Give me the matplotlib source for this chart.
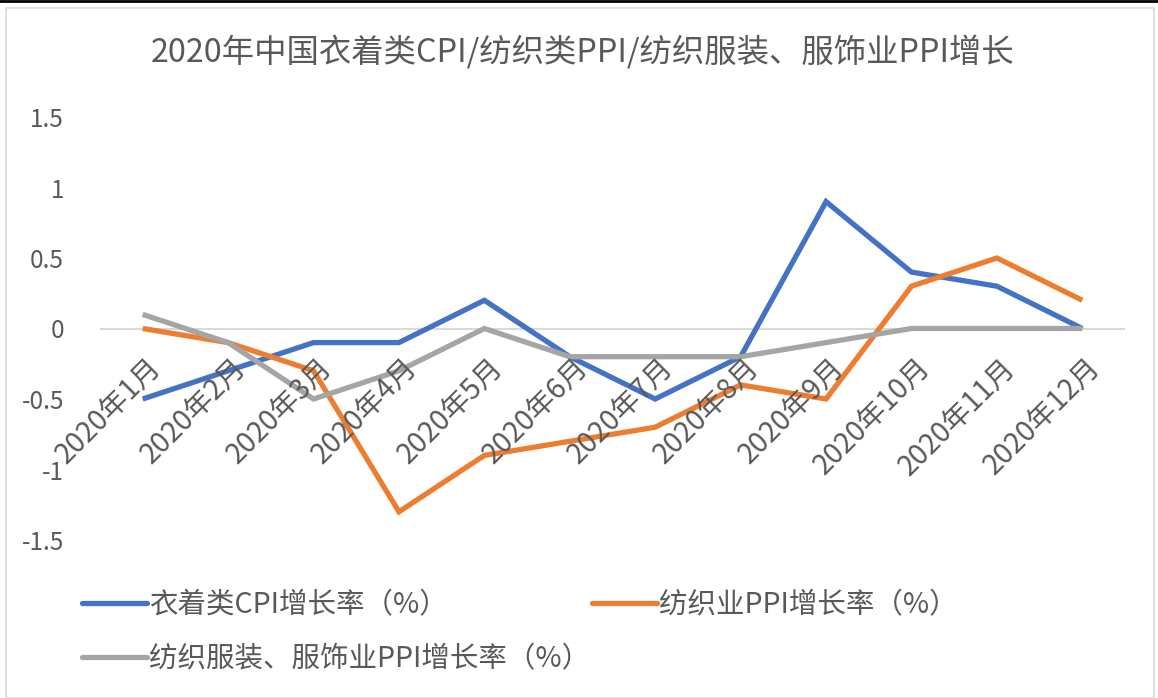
import matplotlib
matplotlib.use("Agg")
import matplotlib.pyplot as plt
from matplotlib.lines import Line2D
from matplotlib.patches import Rectangle

plt.rcParams['font.family'] = ['Noto Sans CJK SC', 'DejaVu Sans']

months = ["2020年1月", "2020年2月", "2020年3月", "2020年4月", "2020年5月", "2020年6月",
          "2020年7月", "2020年8月", "2020年9月", "2020年10月", "2020年11月", "2020年12月"]
cpi_clothing = [-0.5, -0.3, -0.1, -0.1, 0.2, -0.2, -0.5, -0.2, 0.9, 0.4, 0.3, 0.0]
ppi_textile = [0.0, -0.1, -0.3, -1.3, -0.9, -0.8, -0.7, -0.4, -0.5, 0.3, 0.5, 0.2]
ppi_apparel = [0.1, -0.1, -0.5, -0.3, 0.0, -0.2, -0.2, -0.2, -0.1, 0.0, 0.0, 0.0]
yticks = [-1.5, -1, -0.5, 0, 0.5, 1, 1.5]
ytick_labels = ["-1.5", "-1", "-0.5", "0", "0.5", "1", "1.5"]

title = "2020年中国衣着类CPI/纺织类PPI/纺织服装、服饰业PPI增长"
names = ["衣着类CPI增长率（%）", "纺织业PPI增长率（%）", "纺织服装、服饰业PPI增长率（%）"]
colors = ["#4472C4", "#ED7D31", "#A5A5A5"]
text_color = "#595959"

W, H = 1158, 698
fig = plt.figure(figsize=(W / 100, H / 100), dpi=100)
ax = fig.add_axes([100 / W, 1 - 540 / H, 1025 / W, 423 / H])

x = list(range(len(months)))
handles = []
for vals, c in zip([cpi_clothing, ppi_textile, ppi_apparel], colors):
    h, = ax.plot(x, vals, color=c, lw=3.8, solid_joinstyle='miter', solid_capstyle='butt', zorder=3)
    handles.append(h)

ax.set_xlim(-0.5, len(months) - 0.5)
ax.set_ylim(-1.5, 1.5)
for s in ax.spines.values():
    s.set_visible(False)
ax.axhline(0, color="#D9D9D9", lw=1.5, zorder=1)

ax.set_yticks(yticks)
ax.set_yticklabels(ytick_labels, fontsize=17.5, color=text_color)
ax.tick_params(axis='y', length=0, pad=26)
ax.set_xticks([])
for xi, lab in zip(x, months):
    ax.text(xi + 0.04, -0.17, lab, rotation=45, ha='right', va='top', rotation_mode='anchor',
            fontsize=20.5, color=text_color)

fig.text(583 / W, 1 - 52 / H, title, ha='center', va='center', fontsize=23.3, color=text_color)

leg_pos = [(82, 605), (592, 605), (82, 659)]
for h, name, c, (lx, ly) in zip(handles, names, colors, leg_pos):
    lh = Line2D([], [], color=c, lw=3.8, solid_capstyle='round')
    fig.legend(handles=[lh], labels=[name], loc='center left',
               bbox_to_anchor=(lx / W, 1 - ly / H), frameon=False, fontsize=20.5,
               handlelength=2.3, handletextpad=0.05, borderpad=0, borderaxespad=0,
               labelcolor=text_color)

fig.add_artist(Rectangle((6 / W, 0), (W - 10) / W, (H - 8) / H, transform=fig.transFigure,
                         fill=False, edgecolor="#D9D9D9", lw=1.2))
fig.add_artist(Line2D([0, 1], [1 - 1 / H, 1 - 1 / H], transform=fig.transFigure, color="black", lw=2))

fig.savefig("out.png", dpi=100)
